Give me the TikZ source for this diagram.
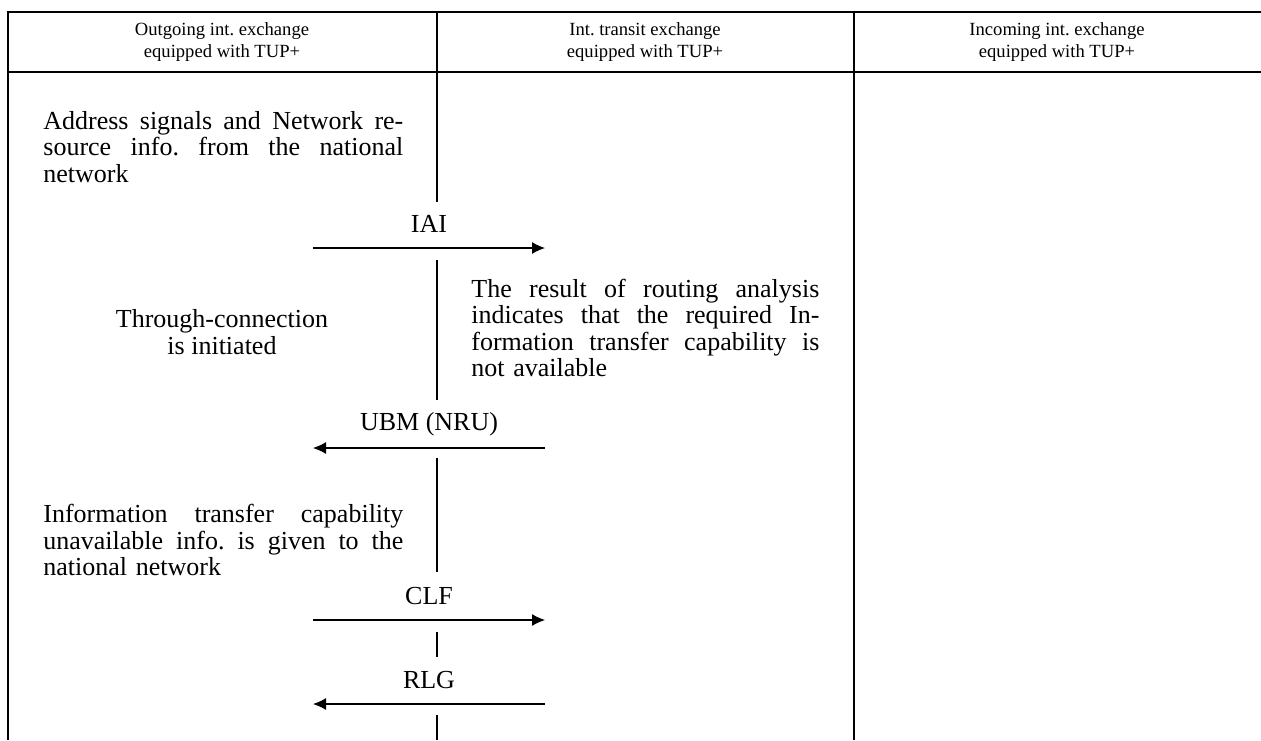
\documentclass[tikz,border=0pt]{standalone}
\usepackage{fontspec}
\setmainfont{Liberation Serif}
\usetikzlibrary{arrows.meta,positioning}

\newcommand{\jline}[1]{{\spaceskip=0pt\xspaceskip=0pt\makebox[\hsize][s]{#1}}}

\begin{document}
\begin{tikzpicture}[x=0.5pt,y=-0.5pt,
    hdr/.style={font=\fontsize{9.3}{11}\selectfont,align=center,inner sep=0pt},
    txt/.style={font=\fontsize{13}{13.25}\selectfont,inner sep=0pt},
    blk/.style={txt,text width=#1,align=left,anchor=west},
    lbl/.style={txt,midway,yshift=12pt},
    msg/.style={line width=0.6pt,-{Latex[length=6.5pt,width=6pt]}},
    rule/.style={line width=0.6pt}]
    \useasboundingbox (0,0) rectangle (1261,740);
    % frame of the table
    \draw[rule] (8,740) -- (8,12) -- (1261,12);
    \draw[rule] (8,72) -- (1261,72);
    \draw[rule] (854,12) -- (854,740);
    \draw[rule] (437,12) -- (437,202);
    \draw[rule] (437,260) -- (437,400);
    \draw[rule] (437,458) -- (437,572);
    \draw[rule] (437,632) -- (437,657);
    \draw[rule] (437,715) -- (437,740);
    % column heads
    \node[hdr] (hOut) at (222,42) {Outgoing int.\ exchange\\equipped with TUP+};
    \node[hdr] (hTransit) at (645,42) {Int.\ transit exchange\\equipped with TUP+};
    \node[hdr] (hIn) at (1057,42) {Incoming int.\ exchange\\equipped with TUP+};
    % texts
    \node[blk=180pt] (addr) at (43,147) {\jline{Address signals and Network re-}\\
        \jline{source info.\ from the national}\\network};
    \node[txt,align=center] (through) at (222,332) {Through-connection\\is initiated};
    \node[blk=174pt] (route) at (471,328) {\jline{The result of routing analysis}\\
        \jline{indicates that the required In-}\\
        \jline{formation transfer capability is}\\not available};
    \node[blk=180pt] (unavail) at (43,540) {\jline{Information transfer capability}\\
        \jline{unavailable info.\ is given to the}\\national network};
    % messages
    \coordinate (iaiA) at (313,248);
    \coordinate (iaiB) at (545,248);
    \coordinate (ubmA) at (545,448);
    \coordinate (ubmB) at (313,448);
    \coordinate (clfA) at (313,620);
    \coordinate (clfB) at (545,620);
    \coordinate (rlgA) at (545,704);
    \coordinate (rlgB) at (313,704);
    \draw[msg] (iaiA) -- node[lbl] (iai) {IAI} (iaiB);
    \draw[msg] (ubmA) -- node[lbl] (ubm) {UBM (NRU)} (ubmB);
    \draw[msg] (clfA) -- node[lbl] (clf) {CLF} (clfB);
    \draw[msg] (rlgA) -- node[lbl] (rlg) {RLG} (rlgB);
\end{tikzpicture}
\end{document}
